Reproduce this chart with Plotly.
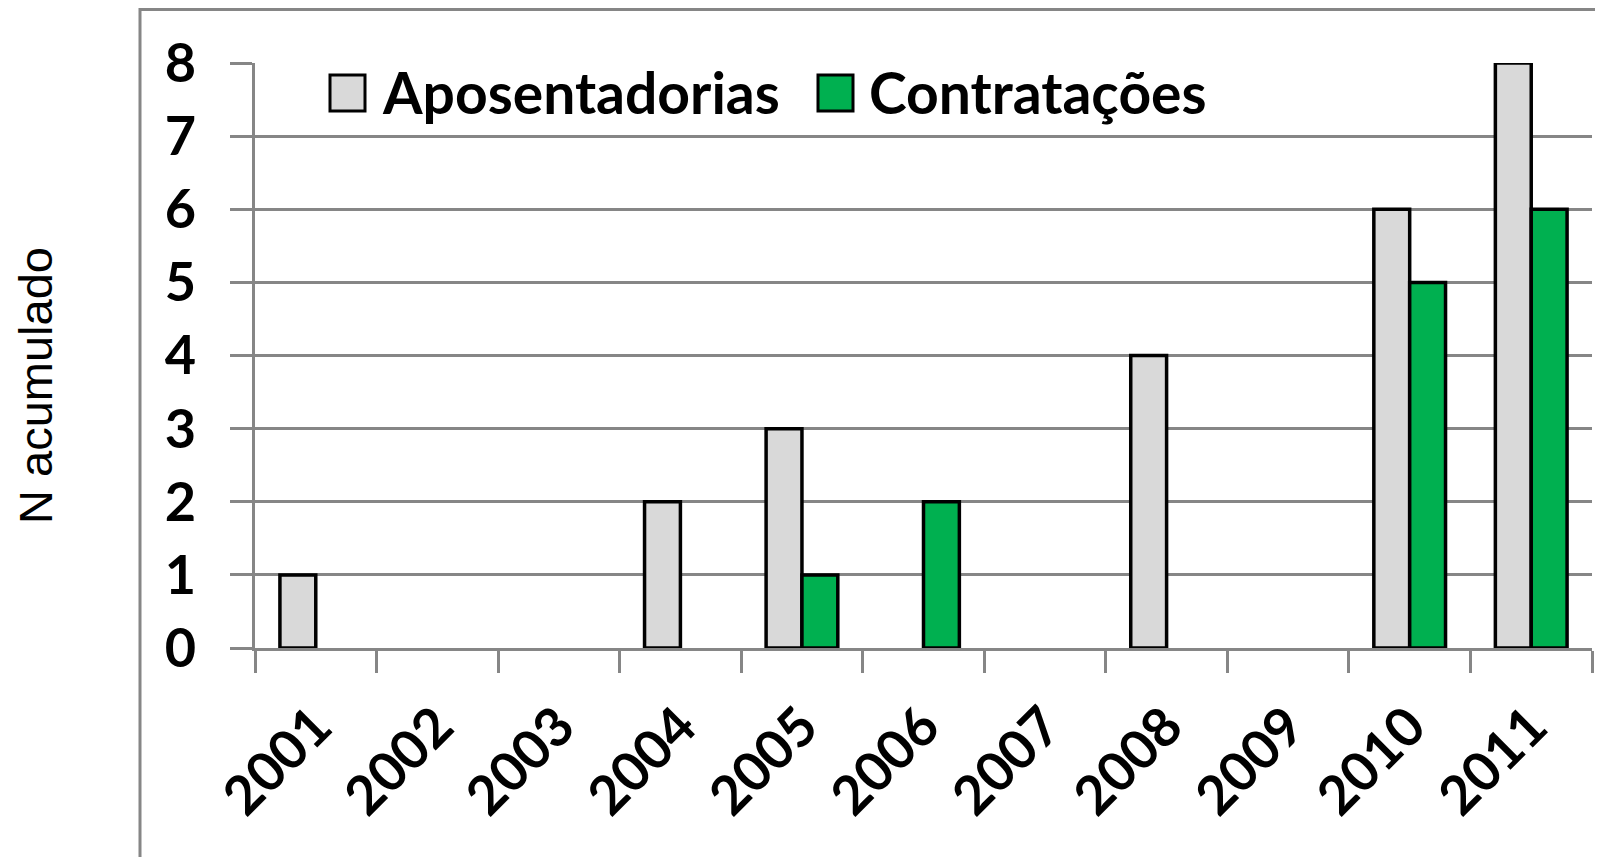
import plotly.graph_objects as go

years = ["2001", "2002", "2003", "2004", "2005", "2006", "2007", "2008", "2009", "2010", "2011"]
aposentadorias = [1, 0, 0, 2, 3, 0, 0, 4, 0, 6, 8]
contratacoes = [0, 0, 0, 0, 1, 2, 0, 0, 0, 5, 6]
series_names = ["Aposentadorias", "Contratações"]
series_colors = ["#d9d9d9", "#00b050"]
y_title = "N acumulado"
y_ticks = [0, 1, 2, 3, 4, 5, 6, 7, 8]

OFF = 8  # page body margin
W, H = 1603 - OFF, 857 - OFF
ML, MR, MT, MB = 255 - OFF, 11, 63 - OFF, 209
PW, PH = W - ML - MR, H - MT - MB

def px_x(p):
    return (p - OFF - ML) / PW

def px_y(p):
    return (H - MB - (p - OFF)) / PH

TICKFONT = dict(family="Lato, 'Open Sans', sans-serif", size=54, color="black", weight="bold")
LEGFONT = dict(family="Lato, 'Open Sans', sans-serif", size=57, color="black", weight="bold")
GRID = "#868686"

fig = go.Figure()
for name, vals, col in zip(series_names, [aposentadorias, contratacoes], series_colors):
    fig.add_trace(go.Bar(
        x=years, y=[v if v else None for v in vals], name=name,
        marker=dict(color=col, line=dict(color="black", width=3.5)),
        showlegend=False,
    ))

fig.update_layout(
    width=W, height=H,
    margin=dict(l=ML, r=MR, t=MT, b=MB, pad=0, autoexpand=False),
    paper_bgcolor="white", plot_bgcolor="white",
    barmode="group", bargap=0.41, bargroupgap=0,
    showlegend=False,
    xaxis=dict(
        type="category", tickson="boundaries", ticks="outside", ticklen=22,
        tickcolor=GRID, tickwidth=3, showline=True, linecolor=GRID, linewidth=3,
        showgrid=False, tickangle=-45, tickfont=TICKFONT, ticklabelstandoff=22,
        automargin=False,
    ),
    yaxis=dict(
        range=[0, 8], tickvals=y_ticks, ticks="outside", ticklen=22,
        tickcolor=GRID, tickwidth=3, showline=True, linecolor=GRID, linewidth=3,
        showgrid=True, gridcolor=GRID, gridwidth=3, zeroline=False,
        tickfont=TICKFONT, ticklabelstandoff=23, automargin=False,
    ),
)

# outer border of chart area
fig.add_shape(type="rect", xref="paper", yref="paper",
              x0=px_x(140), x1=px_x(1620), y0=px_y(900), y1=px_y(9.5),
              line=dict(color=GRID, width=3), fillcolor="rgba(0,0,0,0)", layer="below")

# manual legend
leg = [(330, 380), (818, 867)]
for (bx, tx), name, col in zip(leg, series_names, series_colors):
    fig.add_shape(type="rect", xref="paper", yref="paper",
                  x0=px_x(bx), x1=px_x(bx + 35), y0=px_y(111), y1=px_y(75),
                  line=dict(color="black", width=3), fillcolor=col)
    fig.add_annotation(xref="paper", yref="paper", x=px_x(tx), y=px_y(92),
                       text=name, showarrow=False, xanchor="left", yanchor="middle",
                       font=LEGFONT)

fig.add_annotation(xref="paper", yref="paper", x=px_x(35), y=px_y(386),
                   text=y_title, showarrow=False, textangle=-90,
                   xanchor="center", yanchor="middle",
                   font=dict(family="Liberation Sans, Arial, sans-serif", size=47, color="black"))

fig.write_html("out.html")
